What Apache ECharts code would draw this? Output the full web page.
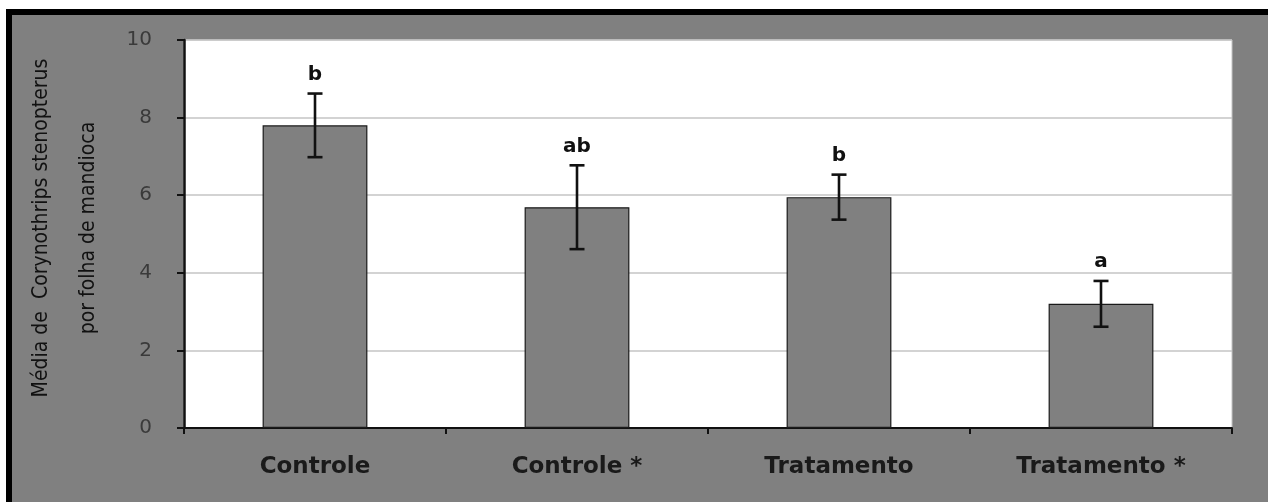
<!DOCTYPE html>
<html>
<head>
<meta charset="utf-8">
<script src="https://cdn.jsdelivr.net/npm/echarts@6/dist/echarts.min.js"></script>
<style>
  html, body { margin: 0; padding: 0; background: #ffffff; }
  #chart { width: 1268px; height: 502px; }
</style>
</head>
<body>
<div id="chart"></div>
<script>
// Treatment groups along the x axis
const categories = ['Controle', 'Controle *', 'Tratamento', 'Tratamento *'];
// Mean thrips count per leaf
const means = [7.8, 5.69, 5.95, 3.2];
// Half-length of each error bar
const errors = [0.82, 1.08, 0.58, 0.59];
// Significance letters shown above each bar
const letters = ['b', 'ab', 'b', 'a'];
// Value axis tick marks
const yTicks = [0, 2, 4, 6, 8, 10];

const chart = echarts.init(document.getElementById('chart'), null, { renderer: 'canvas' });

const errorData = categories.map((c, i) => [i, means[i] - errors[i], means[i] + errors[i], letters[i]]);

const titleFont = '21px "Liberation Sans Narrow", "DejaVu Sans Condensed", sans-serif';

const option = {
  backgroundColor: '#ffffff',
  animation: false,
  graphic: [
    { type: 'rect', z: -10, silent: true, shape: { x: 6, y: 9, width: 1262, height: 493 }, style: { fill: '#000000' } },
    { type: 'rect', z: -9, silent: true, shape: { x: 12, y: 15, width: 1256, height: 487 }, style: { fill: '#808080' } },
    { type: 'rect', z: -8, silent: true, shape: { x: 184, y: 40, width: 1048, height: 388 }, style: { fill: '#ffffff', stroke: '#c4c4c4', lineWidth: 1 } },
    {
      type: 'text', silent: true, x: 42, y: 228, rotation: Math.PI / 2,
      style: { text: 'Média de  Corynothrips stenopterus', font: titleFont, fill: '#111111', align: 'center', verticalAlign: 'middle' }
    },
    {
      type: 'text', silent: true, x: 89, y: 228, rotation: Math.PI / 2,
      style: { text: 'por folha de mandioca', font: titleFont, fill: '#111111', align: 'center', verticalAlign: 'middle' }
    }
  ],
  grid: { left: 184, right: 36, top: 40, bottom: 74, containLabel: false },
  xAxis: {
    type: 'category',
    data: categories,
    axisLine: { show: true, lineStyle: { color: '#111111', width: 2 } },
    axisTick: { show: true, alignWithLabel: false, length: 6, lineStyle: { color: '#111111', width: 2 } },
    axisLabel: {
      margin: 28,
      color: '#1a1a1a',
      fontFamily: 'DejaVu Sans',
      fontWeight: 'bold',
      fontSize: 23
    },
    splitLine: { show: false }
  },
  yAxis: {
    type: 'value',
    min: yTicks[0],
    max: yTicks[yTicks.length - 1],
    interval: yTicks[1] - yTicks[0],
    axisLine: { show: true, lineStyle: { color: '#111111', width: 2.5 } },
    axisTick: { show: true, inside: false, length: 7, lineStyle: { color: '#111111', width: 2 } },
    axisLabel: {
      margin: 32,
      color: '#3a3a3a',
      fontFamily: 'DejaVu Sans',
      fontSize: 20
    },
    splitLine: { show: true, lineStyle: { color: '#c4c4c4', width: 1.5 } }
  },
  series: [
    {
      type: 'bar',
      data: means,
      barWidth: '40%',
      itemStyle: { color: '#808080', borderColor: '#1a1a1a', borderWidth: 1.2 },
      z: 2
    },
    {
      type: 'custom',
      data: errorData,
      z: 5,
      renderItem: function (params, api) {
        const idx = api.value(0);
        const low = api.coord([idx, api.value(1)]);
        const high = api.coord([idx, api.value(2)]);
        const half = 7.5;
        const style = { stroke: '#111111', lineWidth: 2.6 };
        return {
          type: 'group',
          children: [
            { type: 'line', shape: { x1: high[0], y1: high[1], x2: low[0], y2: low[1] }, style: style },
            { type: 'line', shape: { x1: high[0] - half, y1: high[1], x2: high[0] + half, y2: high[1] }, style: style },
            { type: 'line', shape: { x1: low[0] - half, y1: low[1], x2: low[0] + half, y2: low[1] }, style: style },
            {
              type: 'text',
              x: high[0], y: high[1] - 9,
              style: {
                text: letters[params.dataIndex],
                font: 'bold 20px "DejaVu Sans", sans-serif',
                fill: '#111111', align: 'center', verticalAlign: 'bottom'
              }
            }
          ]
        };
      }
    }
  ]
};

chart.setOption(option);
</script>
</body>
</html>
